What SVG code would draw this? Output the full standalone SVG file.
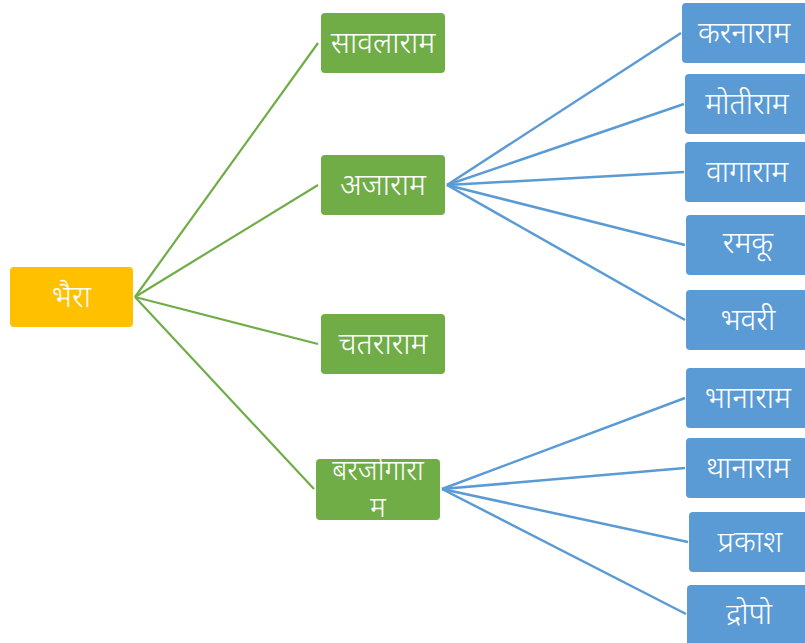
<svg xmlns="http://www.w3.org/2000/svg" width="805" height="643" viewBox="0 0 805 643">
<style>
.root{fill:#FFC000}
.g{fill:#70AD47}
.b{fill:#5B9BD5}
.t{fill:#fff;font-family:"Noto Sans","Noto Sans Devanagari","Lohit Devanagari","Mangal",sans-serif;font-size:30px;font-weight:300;text-anchor:middle;dominant-baseline:central}
.s{font-size:28px}
.lg{stroke:#70AD47;stroke-width:2.2;fill:none}
.lb{stroke:#5B9BD5;stroke-width:2.5;fill:none}
</style>
<rect width="805" height="643" fill="#fff"/>
<g id="connectors">
<line class="lg" x1="135" y1="297" x2="318" y2="43"/>
<line class="lg" x1="135" y1="297" x2="318" y2="185"/>
<line class="lg" x1="135" y1="297" x2="318" y2="344"/>
<line class="lg" x1="135" y1="297" x2="314" y2="489"/>
<line class="lb" x1="447" y1="185" x2="681" y2="33"/>
<line class="lb" x1="447" y1="185" x2="684" y2="104"/>
<line class="lb" x1="447" y1="185" x2="684" y2="172"/>
<line class="lb" x1="447" y1="185" x2="685" y2="245"/>
<line class="lb" x1="447" y1="185" x2="685" y2="320"/>
<line class="lb" x1="442" y1="489" x2="685" y2="398"/>
<line class="lb" x1="442" y1="489" x2="685" y2="468"/>
<line class="lb" x1="442" y1="489" x2="688" y2="542"/>
<line class="lb" x1="442" y1="489" x2="686" y2="614"/>
</g>
<g id="n-bhaira"><rect class="root" x="10" y="267" width="123" height="60" rx="4"/><text class="t" x="71.5" y="295">भैरा</text></g>
<g id="n-savlaram"><rect class="g" x="321" y="13" width="124" height="60" rx="4"/><text class="t" x="383" y="41">सावलाराम</text></g>
<g id="n-ajaram"><rect class="g" x="321" y="155" width="124" height="60" rx="4"/><text class="t" x="383" y="183">अजाराम</text></g>
<g id="n-chatraram"><rect class="g" x="321" y="314" width="124" height="60" rx="4"/><text class="t" x="383" y="342">चतराराम</text></g>
<g id="n-barjogaram"><rect class="g" x="316" y="459" width="124" height="61" rx="4"/><text class="t s" x="378" y="469">बरजोगारा</text><text class="t s" x="378" y="506">म</text></g>
<g id="n-karnaram"><rect class="b" x="682" y="3" width="130" height="60" rx="4"/><text class="t" x="744" y="31">करनाराम</text></g>
<g id="n-motiram"><rect class="b" x="685" y="74" width="130" height="60" rx="4"/><text class="t" x="747" y="102">मोतीराम</text></g>
<g id="n-vagaram"><rect class="b" x="685" y="142" width="130" height="60" rx="4"/><text class="t" x="747" y="170">वागाराम</text></g>
<g id="n-ramku"><rect class="b" x="686" y="215" width="130" height="60" rx="4"/><text class="t" x="748" y="241">रमकू</text></g>
<g id="n-bhavri"><rect class="b" x="686" y="290" width="130" height="60" rx="4"/><text class="t" x="748" y="318">भवरी</text></g>
<g id="n-bhanaram"><rect class="b" x="686" y="368" width="130" height="60" rx="4"/><text class="t" x="748" y="396">भानाराम</text></g>
<g id="n-thanaram"><rect class="b" x="686" y="438" width="130" height="60" rx="4"/><text class="t" x="748" y="466">थानाराम</text></g>
<g id="n-prakash"><rect class="b" x="689" y="512" width="130" height="60" rx="4"/><text class="t" x="750" y="540">प्रकाश</text></g>
<g id="n-dropo"><rect class="b" x="687" y="585" width="130" height="62" rx="4"/><text class="t" x="749" y="612">द्रोपो</text></g>
</svg>
